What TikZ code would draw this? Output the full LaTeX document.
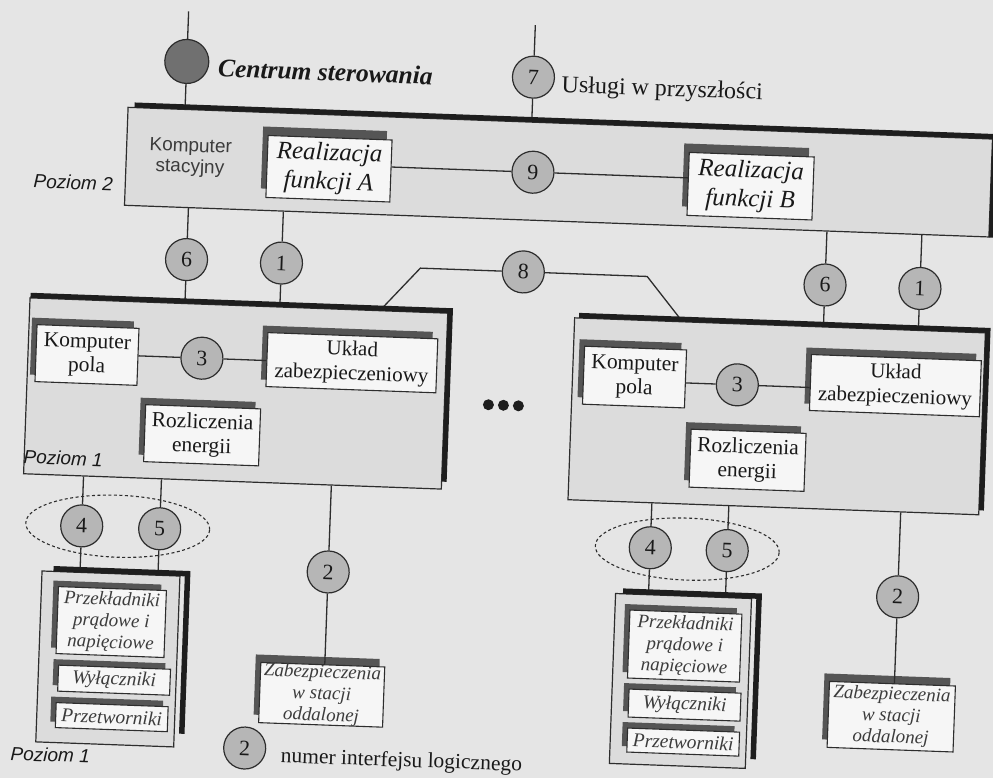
\documentclass[tikz,border=0pt]{standalone}
\usepackage{fontspec}
\setmainfont{Liberation Serif}
\setsansfont{Liberation Sans}
\usetikzlibrary{shadows,shapes.geometric}

\newcommand\fsz[2]{\fontsize{#1}{#2}\selectfont}

\definecolor{bgc}{RGB}{229,229,229}
\definecolor{boxc}{RGB}{220,220,220}
\definecolor{whitec}{RGB}{246,246,246}
\definecolor{shc}{RGB}{85,85,85}
\definecolor{barc}{RGB}{30,30,30}
\definecolor{numc}{RGB}{182,182,182}
\definecolor{cenc}{RGB}{112,112,112}
\definecolor{linec}{RGB}{45,45,45}
\definecolor{textc}{RGB}{25,25,25}
\definecolor{softtext}{RGB}{60,60,60}

\begin{document}
\begin{tikzpicture}[x=1pt,y=-1pt,
  conn/.style={draw=linec, line width=1.3pt},
  levelbox/.style={draw=linec, line width=1.2pt, fill=boxc, inner sep=0pt},
  bar/.style={draw=barc, line width=5pt, line join=miter, line cap=butt},
  fbox/.style={draw=linec, line width=1.1pt, fill=whitec, inner sep=0pt, align=center, text=textc,
     general shadow={fill=shc, shadow xshift=-5pt, shadow yshift=#1}},
  fbox/.default=7pt,
  num/.style={circle, draw=linec, line width=1.2pt, fill=numc, minimum size=42pt, inner sep=0pt,
     font=\fsz{22}{22}, text=textc},
  grpell/.style={ellipse, draw=linec, dash pattern=on 3pt off 2.5pt, line width=1.1pt,
     minimum width=184pt, minimum height=62pt},
  levellabel/.style={font=\sffamily\itshape\fsz{19}{21}, text=textc},
  dot/.style={circle, fill=barc, minimum size=11pt, inner sep=0pt},
]
\fill[bgc] (0,0) rectangle (993,778);
\useasboundingbox (0,0) rectangle (993,778);

\begin{scope}[rotate around={-2.1:(496,389)}, transform shape]

% ---- level frames ----
\node[levelbox, minimum width=865pt, minimum height=98pt] (L2) at (550.5,170) {};
\node[levelbox, minimum width=418pt, minimum height=176pt] (L1a) at (236,403) {};
\node[levelbox, minimum width=411pt, minimum height=182pt] (L1b) at (777.5,406) {};
\node[levelbox, minimum width=138pt, minimum height=171pt] (ga) at (118,673) {};
\node[levelbox, minimum width=136pt, minimum height=170pt] (gb) at (691,674) {};

% ---- dashed groupings of interfaces 4 and 5 ----
\node[grpell] (ea) at (123,540) {};
\node[grpell] (eb) at (693,542) {};

% ---- labels ----
\node[anchor=base west, font=\bfseries\itshape\fsz{25.5}{28}, text=textc] (cst) at (203,87) {Centrum sterowania};
\node[anchor=base west, font=\fsz{24}{26}, text=textc] (usl) at (547,90) {Usługi w przyszłości};
\node[font=\sffamily\fsz{19}{21}, text=softtext, align=center] (ks) at (182,169) {Komputer\\stacyjny};
\node[levellabel] (p2) at (66,198) {Poziom 2};
\node[levellabel] (p1a) at (66,474) {Poziom 1};
\node[levellabel] (p1b) at (64,771) {Poziom 1};

% ---- level 2 functions ----
\node[fbox=9pt, minimum width=124pt, minimum height=62pt, font=\itshape\fsz{25}{29}] (fa) at (321,175) {Realizacja\\funkcji A};
\node[fbox=9pt, minimum width=125pt, minimum height=63pt, font=\itshape\fsz{25}{29}] (fb) at (743,177) {Realizacja\\funkcji B};

% ---- level 1 bays ----
\node[fbox, minimum width=102pt, minimum height=57pt, font=\fsz{21.5}{24}] (kpa) at (86,370) {Komputer\\pola};
\node[fbox, minimum width=170pt, minimum height=54pt, font=\fsz{21}{24.5}] (uza) at (351,368) {Układ\\zabezpieczeniowy};
\node[fbox, minimum width=115pt, minimum height=57pt, font=\fsz{21.5}{24}] (rea) at (204,446) {Rozliczenia\\energii};

\node[fbox, minimum width=102pt, minimum height=58pt, font=\fsz{21.5}{24}] (kpb) at (634,372) {Komputer\\pola};
\node[fbox, minimum width=170pt, minimum height=56pt, font=\fsz{21}{24.5}] (uzb) at (895,371) {Układ\\zabezpieczeniowy};
\node[fbox, minimum width=115pt, minimum height=58pt, font=\fsz{21.5}{24}] (reb) at (750,451) {Rozliczenia\\energii};

% ---- process level equipment ----
\node[fbox=6pt, minimum width=108pt, minimum height=67pt, font=\itshape\fsz{19}{21.5}, text=softtext] (pka) at (120,636) {Przekładniki\\prądowe i\\napięciowe};
\node[fbox=6pt, minimum width=112pt, minimum height=26pt, font=\itshape\fsz{19.5}{21}, text=softtext] (wya) at (125,694) {Wyłączniki};
\node[fbox=6pt, minimum width=112pt, minimum height=25pt, font=\itshape\fsz{19.5}{21}, text=softtext] (pta) at (124,731) {Przetworniki};

\node[fbox=6pt, minimum width=112pt, minimum height=68pt, font=\itshape\fsz{19}{21.5}, text=softtext] (pkb) at (694,639) {Przekładniki\\prądowe i\\napięciowe};
\node[fbox=6pt, minimum width=112pt, minimum height=28pt, font=\itshape\fsz{19.5}{21}, text=softtext] (wyb) at (696,698) {Wyłączniki};
\node[fbox=6pt, minimum width=112pt, minimum height=24pt, font=\itshape\fsz{19.5}{21}, text=softtext] (ptb) at (696,735) {Przetworniki};

\node[fbox=8pt, minimum width=124pt, minimum height=60pt, font=\itshape\fsz{19}{21.5}, text=softtext] (za) at (333,701) {Zabezpieczenia\\w stacji\\oddalonej};
\node[fbox=8pt, minimum width=126pt, minimum height=66pt, font=\itshape\fsz{19}{21.5}, text=softtext] (zb) at (903,702) {Zabezpieczenia\\w stacji\\oddalonej};

% ---- interface circles ----
\node[circle, draw=linec, line width=1.2pt, fill=cenc, minimum size=44pt, inner sep=0pt] (cc) at (175,73) {};
\coordinate (cctop) at (175,23);
\node[num] (c7) at (522,76) {7};
\coordinate (c7top) at (522,24);
\node[num] (c9) at (525,171) {9};
\node[num] (c6a) at (182,271) {6};
\node[num] (c1a) at (277,271) {1};
\node[num] (c8) at (519,271) {8};
\node[num] (c6b) at (821,273) {6};
\node[num] (c1b) at (916,273) {1};
\node[num] (c3a) at (201,369) {3};
\node[num] (c3b) at (737,376) {3};
\node[num] (c4a) at (87,541) {4};
\node[num] (c5a) at (165,541) {5};
\node[num] (c4b) at (656,542) {4};
\node[num] (c5b) at (733,542) {5};
\node[num] (c2a) at (335,578) {2};
\node[num] (c2b) at (905,582) {2};
\node[num] (c2l) at (258,757) {2};
\node[anchor=base west, font=\fsz{21.5}{24}, text=textc] (leg) at (291,770) {numer interfejsu logicznego};

% ---- ellipsis between bays ----
\node[dot] (d1) at (489,405) {};
\node[dot] (d2) at (504,405) {};
\node[dot] (d3) at (519,405) {};

% ---- connectors ----
\coordinate (k8a) at (416,271);
\coordinate (k8b) at (377,315);
\coordinate (k8c) at (643,271);
\coordinate (k8d) at (680,315);

\draw[conn] (cctop) -- (cc);
\draw[conn] (cc) -- (cc |- L2.north);
\draw[conn] (c7top) -- (c7);
\draw[conn] (c7) -- (c7 |- L2.north);
\draw[conn] (fa.east |- c9) -- (c9);
\draw[conn] (c9) -- (fb.west |- c9);

\foreach \c/\b in {c6a/L1a, c1a/L1a, c6b/L1b, c1b/L1b}{
  \draw[conn] (\c |- L2.south) -- (\c);
  \draw[conn] (\c) -- (\c |- \b.north);
}
\draw[conn] (c8) -- (k8a) -- (k8b);
\draw[conn] (c8) -- (k8c) -- (k8d);

\draw[conn] (kpa.east |- c3a) -- (c3a);
\draw[conn] (c3a) -- (uza.west |- c3a);
\draw[conn] (kpb.east |- c3b) -- (c3b);
\draw[conn] (c3b) -- (uzb.west |- c3b);

\foreach \c/\b/\g in {c4a/L1a/ga, c5a/L1a/ga, c4b/L1b/gb, c5b/L1b/gb}{
  \draw[conn] (\c |- \b.south) -- (\c);
  \draw[conn] (\c) -- (\c |- \g.north);
}
\draw[conn] (c2a |- L1a.south) -- (c2a);
\draw[conn] (c2a) -- (c2a |- za.north);
\draw[conn] (c2b |- L1b.south) -- (c2b);
\draw[conn] (c2b) -- (c2b |- zb.north);

% ---- heavy top and right edges of the frames ----
\draw[bar] ([xshift=7pt,yshift=2pt]L2.north west) -- ([xshift=2pt,yshift=2pt]L2.north east) -- ([xshift=2pt]L2.south east);
\draw[bar] ([xshift=1pt,yshift=2pt]L1a.north west) -- ([xshift=2pt,yshift=2pt]L1a.north east) -- ([xshift=2pt,yshift=8pt]L1a.south east);
\draw[bar] ([xshift=5pt,yshift=2pt]L1b.north west) -- ([xshift=2pt,yshift=2pt]L1b.north east) -- ([xshift=2pt,yshift=5pt]L1b.south east);
\draw[bar, line width=5.5pt] ([xshift=12pt,yshift=2pt]ga.north west) -- ([xshift=7pt,yshift=2pt]ga.north east) -- ([xshift=7pt,yshift=14pt]ga.south east);
\draw[bar, line width=5.5pt] ([xshift=8pt,yshift=2pt]gb.north west) -- ([xshift=7pt,yshift=2pt]gb.north east) -- ([xshift=7pt,yshift=10pt]gb.south east);

\end{scope}
\end{tikzpicture}
\end{document}
